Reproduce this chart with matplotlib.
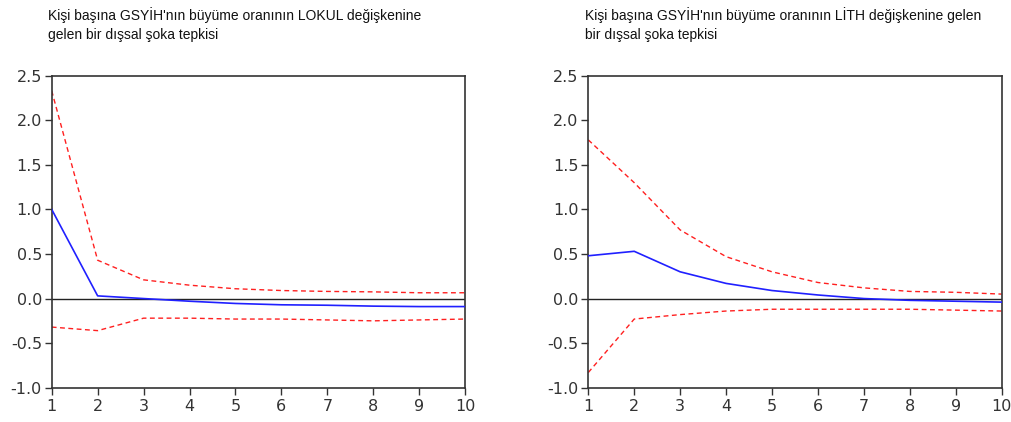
import matplotlib
matplotlib.use("Agg")
import matplotlib.pyplot as plt
import numpy as np

periods = [1, 2, 3, 4, 5, 6, 7, 8, 9, 10]

# Left panel: response to LOKUL shock
lokul_resp = [1.00, 0.03, 0.00, -0.03, -0.055, -0.07, -0.075, -0.085, -0.09, -0.09]
lokul_upper = [2.33, 0.43, 0.21, 0.15, 0.11, 0.09, 0.08, 0.075, 0.065, 0.065]
lokul_lower = [-0.32, -0.36, -0.22, -0.22, -0.23, -0.23, -0.24, -0.25, -0.24, -0.23]

# Right panel: response to LITH shock
lith_resp = [0.48, 0.53, 0.30, 0.17, 0.09, 0.04, 0.00, -0.02, -0.03, -0.04]
lith_upper = [1.78, 1.30, 0.77, 0.47, 0.30, 0.18, 0.12, 0.08, 0.07, 0.05]
lith_lower = [-0.83, -0.23, -0.18, -0.14, -0.12, -0.12, -0.12, -0.12, -0.13, -0.14]

titles = [
    "Kişi başına GSYİH'nın büyüme oranının LOKUL değişkenine\ngelen bir dışsal şoka tepkisi",
    "Kişi başına GSYİH'nın büyüme oranının LİTH değişkenine gelen\nbir dışsal şoka tepkisi",
]
yticks = [-1.0, -0.5, 0.0, 0.5, 1.0, 1.5, 2.0, 2.5]

fig = plt.figure(figsize=(10.12, 4.22), dpi=100)
fig.patch.set_facecolor("white")

panels = [
    (0.0511, lokul_resp, lokul_upper, lokul_lower, titles[0], 48),
    (0.5813, lith_resp, lith_upper, lith_lower, titles[1], 585),
]

for left, resp, up, lo, title, tx in panels:
    ax = fig.add_axes([left, 0.0813, 0.4085, 0.7393])
    ax.axhline(0, color="#222222", lw=1.0, zorder=1)
    ax.plot(periods, up, color="#ff2020", lw=1.0, ls=(0, (3.5, 2.5)), zorder=2)
    ax.plot(periods, lo, color="#ff2020", lw=1.0, ls=(0, (3.5, 2.5)), zorder=2)
    ax.plot(periods, resp, color="#2020ff", lw=1.2, zorder=3)
    ax.set_xlim(1, 10)
    ax.set_ylim(-1.0, 2.5)
    ax.set_xticks(periods)
    ax.set_yticks(yticks)
    ax.set_yticklabels([f"{v:.1f}" for v in yticks])
    for s in ax.spines.values():
        s.set_color("#333333")
        s.set_linewidth(1.2)
    ax.tick_params(axis="both", direction="out", length=5, width=1.0,
                   color="#333333", labelcolor="#333333", labelsize=11.5,
                   pad=2)
    ax.tick_params(axis="x", pad=3)
    for lbl in ax.get_xticklabels() + ax.get_yticklabels():
        lbl.set_family("DejaVu Sans")
    fig.text(tx / 1012, 1 - 7 / 422, title, ha="left", va="top",
             fontsize=10, family="Liberation Sans", color="#111111",
             linespacing=1.45)

fig.savefig("out.png", dpi=100, facecolor="white")
